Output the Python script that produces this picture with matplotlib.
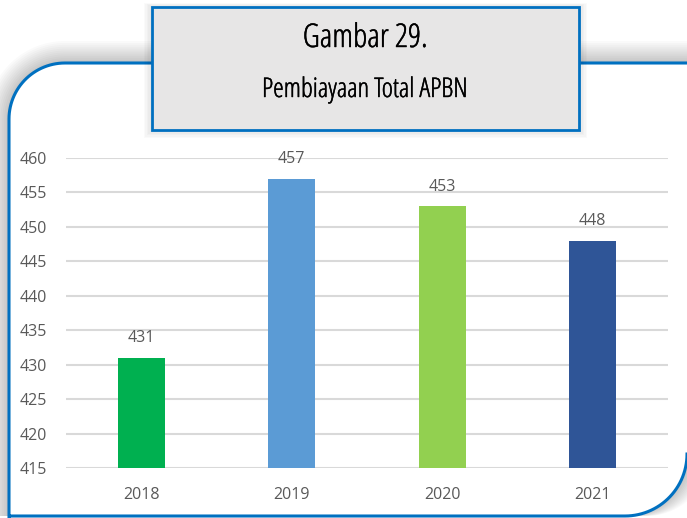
import numpy as np
import matplotlib.pyplot as plt
import matplotlib.patheffects as pe
from matplotlib.path import Path
from matplotlib.patches import PathPatch, Rectangle

# Données
tahun = ["2018", "2019", "2020", "2021"]
nilai = [431, 457, 453, 448]
warna = ["#00B050", "#5B9BD5", "#92D050", "#2F5597"]
y_ticks = [415, 420, 425, 430, 435, 440, 445, 450, 455, 460]

judul = "Gambar 29."
subjudul = "Pembiayaan Total APBN"

W, H = 687, 518
fig = plt.figure(figsize=(W / 100, H / 100), dpi=100)

# Calque de fond en pixels (cadre, ombre, boîte de titre)
bg = fig.add_axes([0, 0, 1, 1])
bg.set_xlim(0, W)
bg.set_ylim(H, 0)
bg.axis("off")


def cadre(x0, y0, x1, y1, r1, r2):
    # coin haut-gauche et coin bas-droit arrondis
    pts = [(x0, H + 20), (x0, y0 + r1)]
    a = np.linspace(np.pi, 1.5 * np.pi, 30)
    pts += list(zip(x0 + r1 + r1 * np.cos(a), y0 + r1 + r1 * np.sin(a)))
    pts += [(x1 + 20, y0), (x1 + 20, y1 - r2), (x1, y1 - r2)]
    a = np.linspace(0, 0.5 * np.pi, 30)
    pts += list(zip(x1 - r2 + r2 * np.cos(a), y1 - r2 + r2 * np.sin(a)))
    pts += [(x0, y1)]
    return Path(pts)


# ombre douce
for d in np.linspace(22, 1, 12):
    bg.add_patch(PathPatch(cadre(9 - d, 63 - d, 687 + d, 516, 56 + d, 62),
                           facecolor="#000000", edgecolor="none", alpha=0.018))
bg.add_patch(PathPatch(cadre(9, 63, 687, 516, 56, 62),
                       facecolor="white", edgecolor="#0070C0", linewidth=2.2))

# boîte de titre
for d in np.linspace(8, 1, 6):
    bg.add_patch(Rectangle((152 - d, 7 - d * 0.5), 427 + 2 * d, 123 + 1.5 * d,
                           facecolor="black", edgecolor="none", alpha=0.02))
bg.add_patch(Rectangle((152, 7), 427, 123, facecolor="#E7E6E6",
                       edgecolor="#0070C0", linewidth=2))
epais = [pe.withStroke(linewidth=0.3, foreground="black")]
bg.text(365, 47, judul, ha="center", va="baseline", fontsize=23.5,
        family="Open Sans", stretch="condensed", color="black",
        path_effects=epais)
bg.text(365, 97, subjudul, ha="center", va="baseline", fontsize=19.5,
        family="Open Sans", stretch="condensed", color="black",
        path_effects=epais)

# Graphique
ax = fig.add_axes([66 / W, (H - 468) / H, 602 / W, 310 / H])
x = np.arange(len(tahun))
bars = ax.bar(x, nilai, width=0.31, color=warna, zorder=3, bottom=0)
ax.set_ylim(415, 460)
ax.set_xlim(-0.5, len(tahun) - 0.5)
ax.set_yticks(y_ticks)
ax.set_xticks(x)
ax.set_xticklabels(tahun)
ax.grid(axis="y", color="#D9D9D9", linewidth=1.5, zorder=0)
for s in ax.spines.values():
    s.set_visible(False)
ax.tick_params(length=0, labelsize=11.5, labelcolor="#595959", pad=14)
ax.tick_params(axis="y", pad=14)
for lab in ax.get_xticklabels() + ax.get_yticklabels():
    lab.set_family("Open Sans")
ax.patch.set_alpha(0)

for xi, v in zip(x, nilai):
    ax.annotate(str(v), (xi, v), xytext=(0, 14), textcoords="offset points",
                ha="center", va="center", fontsize=11.5, color="#595959",
                family="Open Sans")

plt.savefig("out.png", dpi=100)
